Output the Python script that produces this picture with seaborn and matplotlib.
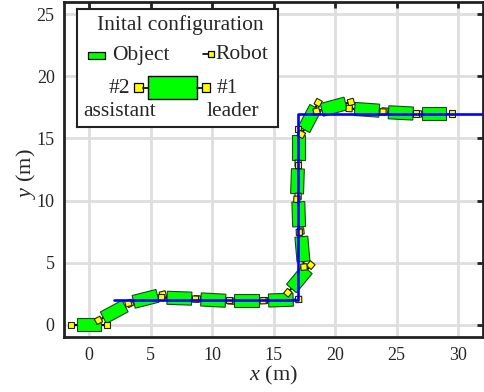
import numpy as np
import matplotlib
matplotlib.use("Agg")
import matplotlib.pyplot as plt
import matplotlib.patches as mpatches
import matplotlib.transforms as mtransforms
import seaborn as sns
import pandas as pd

# ---------------- data ----------------
# reference path (blue)
path_x = [2, 17, 17, 33]
path_y = [2, 2, 17, 17]

# object snapshots: center x, center y, heading (deg)
obj_x = [0.0, 2.05, 4.6, 7.35, 10.1, 12.8, 15.6, 17.1, 17.35, 17.05, 16.95, 17.0, 17.95, 19.9, 22.6, 25.35, 28.05]
obj_y = [0.0, 1.05, 2.1, 2.15, 2.0, 2.0, 2.0, 3.7, 6.1, 8.9, 11.55, 14.3, 16.6, 17.55, 17.3, 17.05, 17.0]
obj_theta = [0, 28, 14, -2, -3, 0, 2, 50, 95, 92, 88, 90, 62, 15, -4, -3, 0]

xticks = [0, 5, 10, 15, 20, 25, 30]
yticks = [0, 5, 10, 15, 20, 25]

OBJ_L, OBJ_W = 2.0, 1.05    # object length / width
ROB_D = 1.45                # robot distance from object center
ROB_S = 0.5                 # robot size

GREEN = "#00ff00"
YELLOW = "#ffff00"

# ---------------- style ----------------
sns.set_theme(style="white")
plt.rcParams["font.family"] = ["Liberation Serif", "DejaVu Serif"]
plt.rcParams["mathtext.fontset"] = "custom"
plt.rcParams["mathtext.rm"] = "Liberation Serif"
plt.rcParams["mathtext.it"] = "Liberation Serif:italic"

fig = plt.figure(figsize=(4.84, 3.92), dpi=100)
ax = fig.add_axes([0.1331, 0.1393, 0.8640, 0.8566])

ax.set_xlim(-2, 32)
ax.set_ylim(-1, 26)
ax.set_xticks(xticks)
ax.set_yticks(yticks)
ax.grid(True, color="#dedede", lw=2.0, zorder=0)
ax.set_axisbelow(True)
for s in ax.spines.values():
    s.set_linewidth(2.0)
    s.set_color("#222222")
ax.tick_params(direction="in", length=4.5, width=2.0, color="#222222",
               top=True, right=True, labelsize=13, pad=7)


def draw_object(axx, cx, cy, th, L, W, d, rs, z=3):
    t = np.deg2rad(th)
    ux, uy = np.cos(t), np.sin(t)
    # connectors
    for sgn in (-1, 1):
        axx.plot([cx + sgn * L / 2 * ux, cx + sgn * d * ux],
                 [cy + sgn * L / 2 * uy, cy + sgn * d * uy],
                 color="black", lw=1.5, zorder=z, solid_capstyle="butt")
    rect = mpatches.Rectangle((cx - L / 2, cy - W / 2), L, W, facecolor=GREEN,
                              edgecolor="#224422", lw=0.8, zorder=z + 0.1)
    rect.set_transform(mtransforms.Affine2D().rotate_deg_around(cx, cy, th) + axx.transData)
    axx.add_patch(rect)
    for sgn in (-1, 1):
        rx, ry = cx + sgn * d * ux, cy + sgn * d * uy
        r = mpatches.Rectangle((rx - rs / 2, ry - rs / 2), rs, rs, facecolor=YELLOW,
                               edgecolor="#222200", lw=0.8, zorder=z + 0.2)
        r.set_transform(mtransforms.Affine2D().rotate_deg_around(rx, ry, th) + axx.transData)
        axx.add_patch(r)


for i, (cx, cy, th) in enumerate(zip(obj_x, obj_y, obj_theta)):
    draw_object(ax, cx, cy, th, OBJ_L, OBJ_W, ROB_D, ROB_S, z=3 + i * 0.01)

df = pd.DataFrame({"x": path_x, "y": path_y})
sns.lineplot(data=df, x="x", y="y", sort=False, estimator=None, color="#0000ff",
             lw=1.9, ax=ax, zorder=10)
ax.set_xlabel("$x$ (m)", fontsize=16, labelpad=0)
ax.set_ylabel("$y$ (m)", fontsize=16)
ax.yaxis.set_label_coords(-0.062, 0.487)

# ---------------- custom legend box (pixel-like coords) ----------------
W_px, H_px = 201.6, 117.4
lax = fig.add_axes([76.7 / 484, (392 - 126.7) / 392, W_px / 484, H_px / 392], zorder=20)
lax.set_xlim(0, W_px)
lax.set_ylim(H_px, 0)
lax.set_xticks([])
lax.set_yticks([])
lax.set_facecolor("white")
for s in lax.spines.values():
    s.set_linewidth(1.5)
    s.set_color("#222222")

fs = 15.5
lax.text(103.3, 16, "Inital configuration", ha="center", va="center", fontsize=fs)
lax.add_patch(mpatches.Rectangle((11.6, 42.4), 16.7, 7.6, facecolor=GREEN, edgecolor="black", lw=0.9))
lax.text(35, 46, "Object", ha="left", va="center", fontsize=fs)
lax.plot([126.6, 131.6], [44.7, 44.7], color="black", lw=1.2)
lax.add_patch(mpatches.Rectangle((131.6, 41.4), 5.7, 6.6, facecolor=YELLOW, edgecolor="black", lw=0.9))
lax.text(138.3, 45.5, "Robot", ha="left", va="center", fontsize=fs)

lax.plot([66, 71.6], [78.2, 78.2], color="black", lw=1.2)
lax.plot([120, 125], [78.2, 78.2], color="black", lw=1.2)
lax.add_patch(mpatches.Rectangle((71.6, 66.7), 48.4, 23, facecolor=GREEN, edgecolor="black", lw=1.0))
lax.add_patch(mpatches.Rectangle((57.3, 74.0), 8.7, 8.4, facecolor=YELLOW, edgecolor="black", lw=0.9))
lax.add_patch(mpatches.Rectangle((125, 74.0), 8.7, 8.4, facecolor=YELLOW, edgecolor="black", lw=0.9))
lax.text(53.3, 79, "#2", ha="right", va="center", fontsize=fs)
lax.text(140, 79, "#1", ha="left", va="center", fontsize=fs)
lax.text(43.3, 102.4, "assistant", ha="center", va="center", fontsize=fs)
lax.text(155.8, 102.4, "leader", ha="center", va="center", fontsize=fs)

fig.savefig("out.png", dpi=100)
